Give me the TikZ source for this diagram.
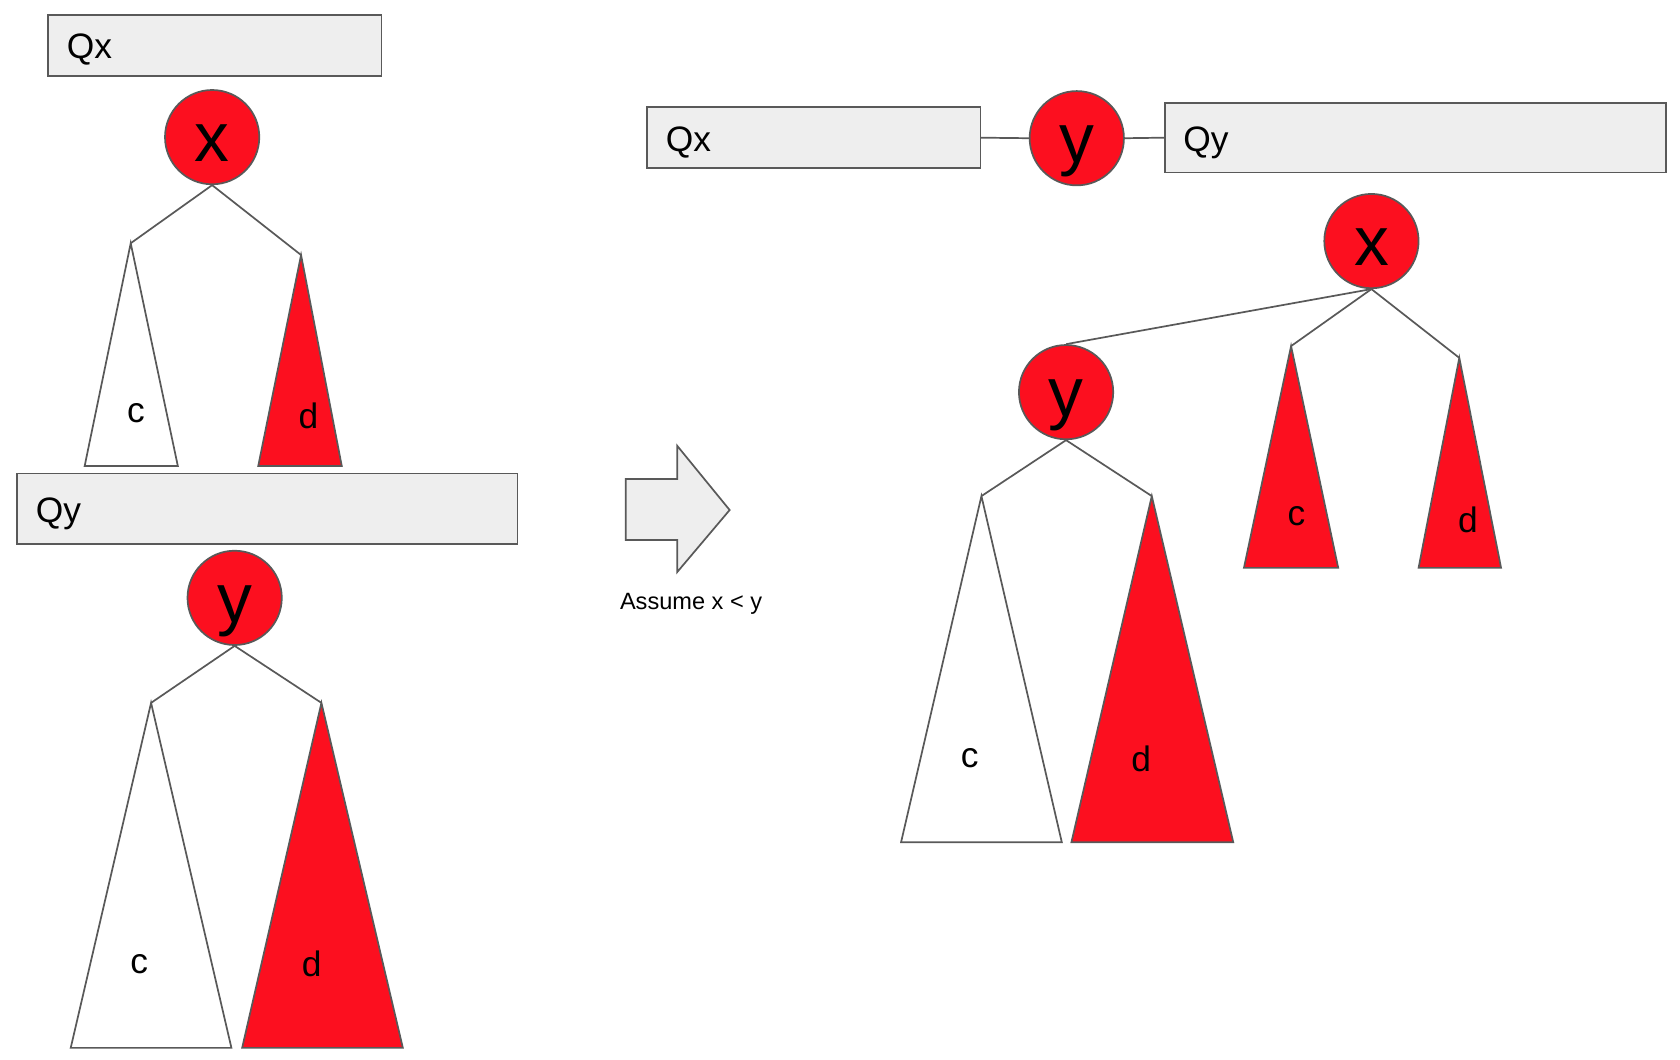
\documentclass[tikz,border=0pt]{standalone}
\usepackage{fontspec}
\setmainfont{Liberation Sans}
\usetikzlibrary{positioning}
\definecolor{nodered}{HTML}{FC0F1F}
\definecolor{boxgray}{HTML}{EEEEEE}
\definecolor{edgegray}{HTML}{595959}
\tikzset{
  queue/.style={draw=edgegray,fill=boxgray,line width=1.6pt,inner sep=0pt},
  rbnode/.style={circle,draw=edgegray,fill=nodered,line width=1.6pt,
                 minimum size=88pt,inner sep=0pt,text height=46pt,text depth=0pt,
                 font=\fontsize{65}{65}\selectfont},
  subtree/.style={draw=edgegray,line width=1.6pt,line join=miter},
  edge/.style={draw=edgegray,line width=1.6pt},
  lbl/.style={font=\fontsize{33}{40}\selectfont,inner sep=0pt},
  qlbl/.style={lbl,anchor=west,text height=25pt,text depth=0pt},
}

\begin{document}
\begin{tikzpicture}[x=1pt,y=-1pt]
  \useasboundingbox (0,0) rectangle (1568,989);

  % before: two separate queues
  \node[queue,minimum width=311pt,minimum height=57pt](qx1) at (200.5,42.5){};
  \node[qlbl] (qx1t) at ([xshift=18pt]qx1.west){Qx};
  \node[rbnode](x1) at (198,128){x};
  \coordinate (c1) at (122,227);
  \coordinate (d1) at (281,238);
  \draw[edge] (x1.south) -- (c1);
  \draw[edge] (x1.south) -- (d1);
  \draw[subtree,fill=white] (c1) -- ++(-43,208) -- ++(87,0) -- cycle;
  \draw[subtree,fill=nodered] (d1) -- ++(-40,197) -- ++(78,0) -- cycle;
  \node[lbl] (c1t) at (127,386){c};
  \node[lbl] (d1t) at (288,388){d};

  \node[queue,minimum width=467pt,minimum height=66pt](qy1) at (249.5,475){};
  \node[qlbl] (qy1t) at ([xshift=18pt]qy1.west){Qy};
  \node[rbnode](y1) at (219,558){y};
  \coordinate (c2) at (141,656);
  \coordinate (d2) at (300,656);
  \draw[edge] (y1.south) -- (c2);
  \draw[edge] (y1.south) -- (d2);
  \draw[subtree,fill=white] (c2) -- ++(-75,322) -- ++(150,0) -- cycle;
  \draw[subtree,fill=nodered] (d2) -- ++(-74,322) -- ++(150,0) -- cycle;
  \node[lbl] (c2t) at (130,900){c};
  \node[lbl] (d2t) at (291,900){d};

  % arrow
  \draw[subtree,fill=boxgray] (584,447) -- (632,447) -- (632,416) -- (681,476)
    -- (632,534) -- (632,504) -- (584,504) -- cycle;
  \node[font=\fontsize{22}{26}\selectfont] (assume) at (645,564){Assume x < y};

  % after: merged
  \node[queue,minimum width=311pt,minimum height=57pt](qx2) at (759.5,128.5){};
  \node[qlbl] (qx2t) at ([xshift=18pt]qx2.west){Qx};
  \node[rbnode](y2) at (1005,129){y};
  \node[queue,minimum width=468pt,minimum height=65pt](qy2) at (1321,128.5){};
  \node[qlbl] (qy2t) at ([xshift=18pt]qy2.west){Qy};
  \draw[edge] (qx2.east) -- (y2.west);
  \draw[edge] (y2.east) -- (qy2.west);

  \node[rbnode](x2) at (1280,225){x};
  \node[rbnode](y3) at (995,366){y};
  \coordinate (c4) at (1205,323);
  \coordinate (d4) at (1362,334);
  \draw[edge] (x2.south) -- (y3.north);
  \draw[edge] (x2.south) -- (c4);
  \draw[edge] (x2.south) -- (d4);
  \draw[subtree,fill=nodered] (c4) -- ++(-44,207) -- ++(88,0) -- cycle;
  \draw[subtree,fill=nodered] (d4) -- ++(-38,196) -- ++(77,0) -- cycle;
  \node[lbl] (c4t) at (1210,482){c};
  \node[lbl] (d4t) at (1370,485){d};

  \coordinate (c3) at (916,463);
  \coordinate (d3) at (1075,463);
  \draw[edge] (y3.south) -- (c3);
  \draw[edge] (y3.south) -- (d3);
  \draw[subtree,fill=white] (c3) -- ++(-75,323) -- ++(150,0) -- cycle;
  \draw[subtree,fill=nodered] (d3) -- ++(-75,323) -- ++(151,0) -- cycle;
  \node[lbl] (c3t) at (905,708){c};
  \node[lbl] (d3t) at (1065,708){d};
\end{tikzpicture}
\end{document}
